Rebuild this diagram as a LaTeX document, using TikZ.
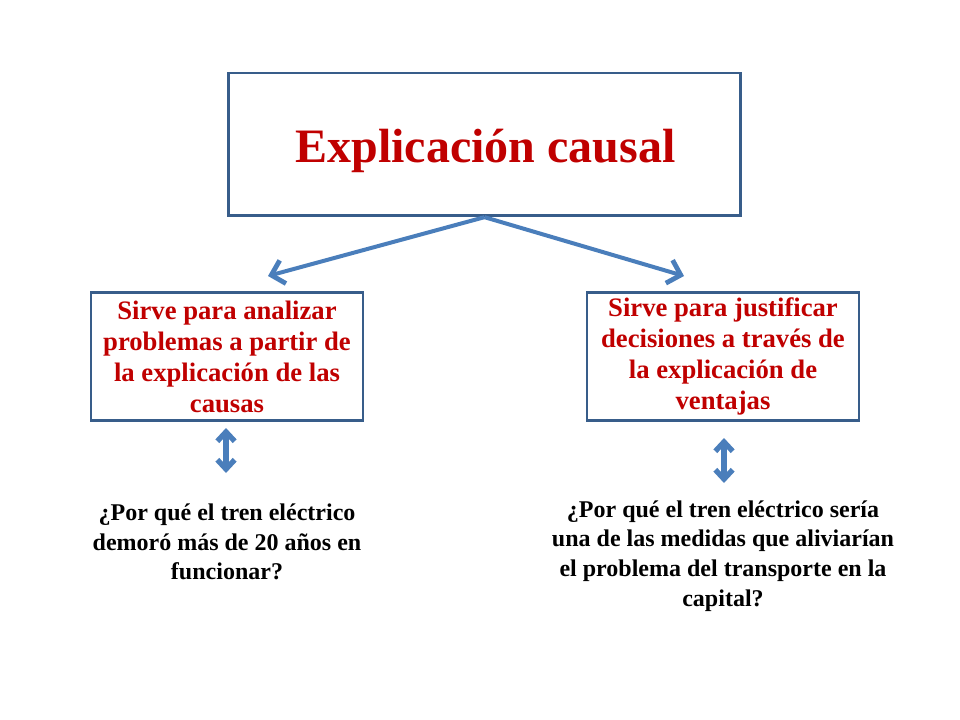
\documentclass[tikz,border=0pt]{standalone}
\usepackage{fontspec}
\setmainfont{Liberation Serif}
\usetikzlibrary{arrows.meta}
\definecolor{boxline}{HTML}{385D8A}
\definecolor{arrowblue}{HTML}{4A7EBB}
\definecolor{titlered}{HTML}{C00000}
\tikzset{
  framebox/.style={draw=boxline, line width=2pt, fill=white, inner sep=0pt, align=center},
  redtext/.style={text=titlered, font=\bfseries\fontsize{20}{23.25}\selectfont},
  qtext/.style={text=black, font=\bfseries\fontsize{18}{22.2}\selectfont, align=center, inner sep=0pt},
  bluearrow/.style={draw=arrowblue, line width=3pt, -{Straight Barb[length=9pt, width=18pt, line width=3.6pt]}},
  dblarrow/.style={draw=arrowblue, line width=3.8pt, {Straight Barb[length=7pt, width=13pt, line width=4pt]}-{Straight Barb[length=7pt, width=13pt, line width=4pt]}}
}
\begin{document}
\begin{tikzpicture}[x=0.75pt, y=-0.75pt]
\useasboundingbox (0,0) rectangle (960,720);
\node[framebox, minimum width=384pt, minimum height=107pt] (top) at (484.5,144.5) {};
\node[text=titlered, font=\bfseries\fontsize{36}{43}\selectfont, anchor=base, inner sep=0pt] (title) at (485.5,163) {Explicación causal};
\node[framebox, redtext, minimum width=204pt, minimum height=96pt] (left) at (227,356.5)
  {Sirve para analizar\\problemas a partir de\\la explicación de las\\causas};
\node[framebox, redtext, minimum width=204pt, minimum height=96pt] (right) at (723,356.5)
  {Sirve para justificar\\decisiones a través de\\la explicación de\\ventajas};
\coordinate (ltip) at (268,276);
\coordinate (rtip) at (684,276);
\draw[bluearrow] (top.south) -- (ltip);
\draw[bluearrow] (top.south) -- (rtip);
\coordinate (la1) at (226,428);
\coordinate (la2) at (226,473);
\coordinate (ra1) at (724,438);
\coordinate (ra2) at (724,483);
\draw[dblarrow] (la1) -- (la2);
\draw[dblarrow] (ra1) -- (ra2);
\node[qtext] (lq) at (227,542) {¿Por qué el tren eléctrico\\demoró más de 20 años en\\funcionar?};
\node[qtext] (rq) at (723,556) {¿Por qué el tren eléctrico sería\\una de las medidas que aliviarían\\el problema del transporte en la\\capital?};
\end{tikzpicture}
\end{document}
